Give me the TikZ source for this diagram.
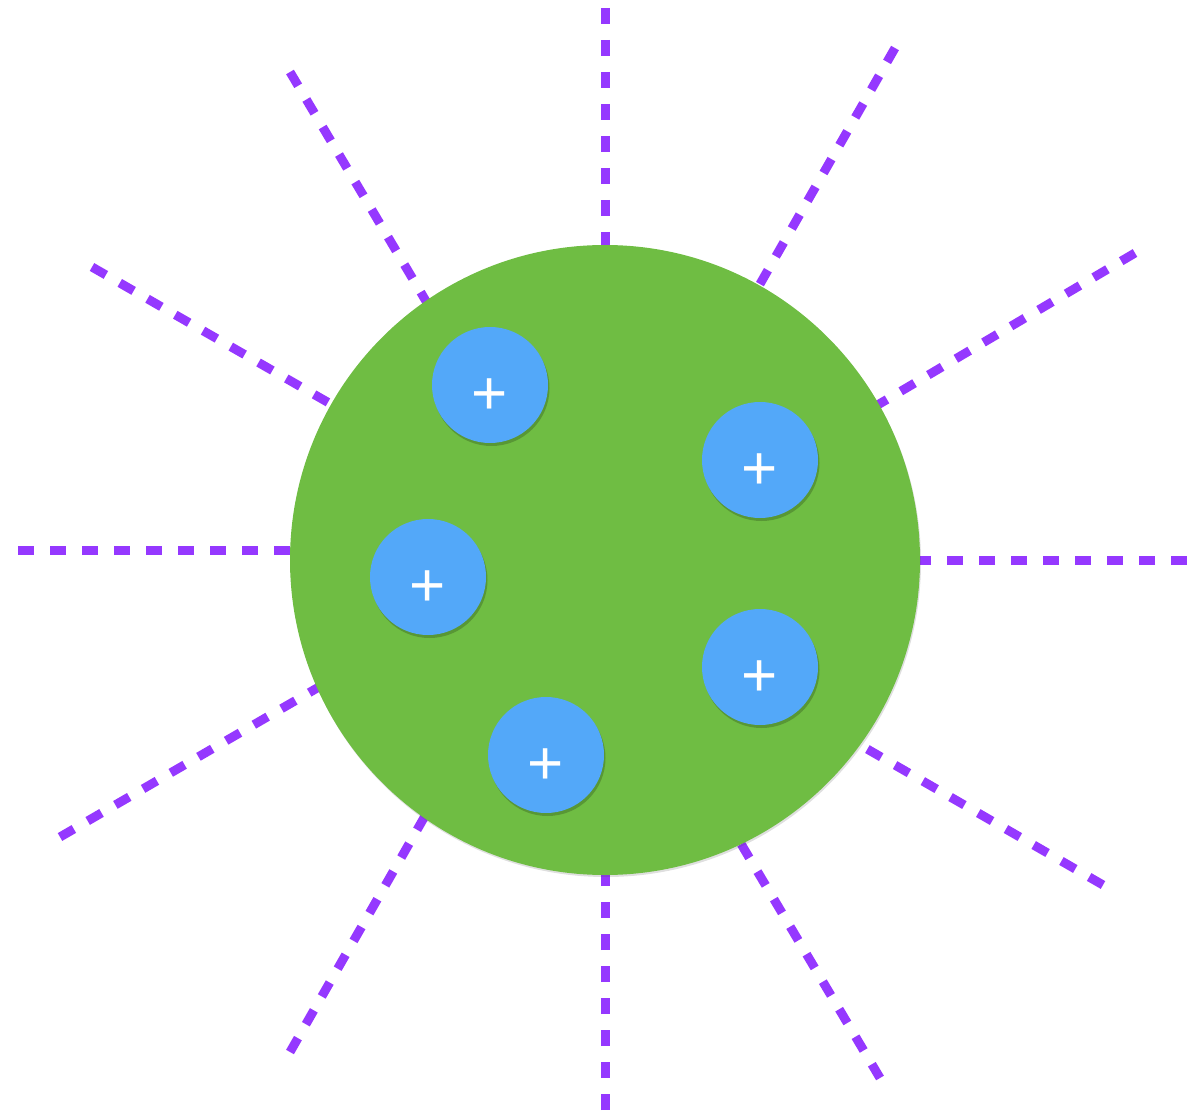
\documentclass[tikz,border=0pt]{standalone}
\usepackage{fontspec}
\setmainfont{Liberation Sans}
\usetikzlibrary{shadows}
\definecolor{leaf}{HTML}{6FBD43}
\definecolor{sky}{HTML}{53A8F9}
\definecolor{violet}{HTML}{9538FF}

\begin{document}
\begin{tikzpicture}[x=1pt,y=-1pt,
  ray/.style={draw=violet,line width=9pt,dash pattern=on 16pt off 16pt},
  sun/.style={circle,fill=leaf,minimum size=630pt,inner sep=0pt,
    drop shadow={shadow xshift=1pt,shadow yshift=-2pt,opacity=.18,fill=black!70}},
  blob/.style={circle,fill=sky,minimum size=116pt,inner sep=0pt,
    drop shadow={shadow xshift=1.5pt,shadow yshift=-3pt,opacity=.2,fill=black}},
  plus/.style={text=white,font=\fontsize{62}{62}\selectfont,inner sep=0pt}]
\useasboundingbox (0,0) rectangle (1187,1115);
% rays
\draw[ray] (605,8) -- (605,260);
\draw[ray] (605,1110) -- (605,860);
\draw[ray] (18,550) -- (305,550);
\draw[ray] (1187,560) -- (905,560);
\draw[ray] (290,72) -- (436,318);
\draw[ray] (895,48) -- (752,298);
\draw[ray] (92,267) -- (343,411);
\draw[ray] (1135,253) -- (864,413);
\draw[ray] (60,837) -- (331,680);
\draw[ray] (1103,885) -- (855,742);
\draw[ray] (290,1052) -- (433,802);
\draw[ray] (880,1078) -- (734,832);
% body
\node[sun] (sun) at (605,560) {};
\node[blob] (p1) at (490,385) {};
\node[blob] (p2) at (760,460) {};
\node[blob] (p3) at (428,577) {};
\node[blob] (p4) at (760,667) {};
\node[blob] (p5) at (546,755) {};
\node[plus] (s1) at ([yshift=-12pt]p1.center) {+};
\node[plus] (s2) at ([yshift=-12pt]p2.center) {+};
\node[plus] (s3) at ([yshift=-12pt]p3.center) {+};
\node[plus] (s4) at ([yshift=-12pt]p4.center) {+};
\node[plus] (s5) at ([yshift=-12pt]p5.center) {+};
\end{tikzpicture}
\end{document}
